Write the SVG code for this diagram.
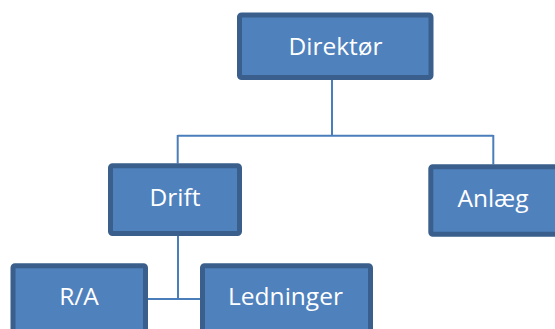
<svg xmlns="http://www.w3.org/2000/svg" width="555" height="329" viewBox="0 0 555 329">
<style>
.box{fill:#4F81BD;stroke:#3A5F8C;stroke-width:5}
.lbl{fill:#FFFFFF;font-family:"Open Sans","Liberation Sans",sans-serif;font-size:24.5px;text-anchor:middle}
.con{fill:none;stroke:#4A7EBB;stroke-width:2}
</style>
<rect width="555" height="329" fill="#FFFFFF"/>
<g id="connectors">
<path class="con" d="M332,80 V135.7 M177.7,135.7 H493.3 M177.7,135 V163.5 M493.3,135 V164.5"/>
<path class="con" d="M178,236 V299 M148,299 H200"/>
</g>
<g id="node-direktor">
<rect class="box" x="239.5" y="15" width="191.5" height="62.5" rx="2"/>
<text class="lbl" x="335.5" y="54.5">Direktør</text>
</g>
<g id="node-drift">
<rect class="box" x="110.5" y="165.8" width="129" height="67.7" rx="2"/>
<text class="lbl" x="175" y="206">Drift</text>
</g>
<g id="node-anlaeg">
<rect class="box" x="430.8" y="166.8" width="130" height="67.5" rx="2"/>
<text class="lbl" x="493" y="206.5">Anlæg</text>
</g>
<g id="node-ra">
<rect class="box" x="13" y="265.8" width="132.5" height="70" rx="2"/>
<text class="lbl" x="79" y="305">R/A</text>
</g>
<g id="node-ledninger">
<rect class="box" x="202.5" y="265.8" width="168" height="70" rx="2"/>
<text class="lbl" x="285.5" y="305">Ledninger</text>
</g>
</svg>
